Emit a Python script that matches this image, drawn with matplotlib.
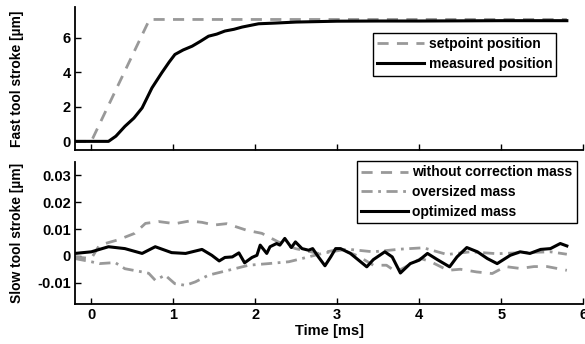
import numpy as np
import matplotlib
matplotlib.use("Agg")
import matplotlib.pyplot as plt

plt.rcParams['font.family'] = ['Liberation Sans', 'DejaVu Sans']
plt.rcParams['font.weight'] = 'bold'

GRAY = '#999999'

# top panel: fast tool
t_set = [-0.2, 0.0, 0.71, 5.8]
y_set = [0.0, 0.0, 7.07, 7.07]

t_meas = [-0.2, 0.0, 0.21, 0.3, 0.41, 0.52, 0.62, 0.74, 0.86, 0.95, 1.02, 1.12, 1.23, 1.33,
          1.43, 1.53, 1.63, 1.74, 1.84, 2.04, 2.24, 2.5, 3.0, 3.5, 4.0, 4.5, 5.0, 5.5, 5.8]
y_meas = [0.0, 0.0, 0.0, 0.3, 0.87, 1.35, 1.94, 3.1, 3.98, 4.6, 5.04, 5.3, 5.52, 5.8,
          6.1, 6.22, 6.4, 6.5, 6.63, 6.82, 6.86, 6.92, 6.97, 6.98, 6.98, 6.99, 7.0, 7.0, 7.0]

# bottom panel: slow tool
t_wo = [-0.2, 0.0, 0.1, 0.33, 0.53, 0.66, 0.82, 1.02, 1.2, 1.35, 1.5, 1.65, 1.9, 2.08, 2.28,
        2.49, 2.77, 3.04, 3.25, 3.44, 3.6, 3.72, 3.9, 4.02, 4.14, 4.35, 4.5, 4.7, 4.89,
        5.05, 5.23, 5.4, 5.56, 5.8]
y_wo = [-0.0004, -0.001, 0.004, 0.006, 0.0084, 0.0121, 0.0128, 0.012, 0.013, 0.0125, 0.0115,
        0.012, 0.0095, 0.0084, 0.0052, 0.0027, 0.0009, 0.0025, 0.0, -0.0035, -0.0035, -0.006,
        -0.003, -0.001, -0.0022, -0.0054, -0.005, -0.006, -0.0066, -0.004, -0.0047, -0.004,
        -0.004, -0.0054]

t_over = [-0.2, 0.0, 0.1, 0.29, 0.41, 0.62, 0.7, 0.78, 0.9, 1.02, 1.15, 1.27, 1.43, 1.67,
          1.92, 2.16, 2.41, 2.57, 2.83, 3.12, 3.44, 3.77, 4.05, 4.34, 4.62, 4.95, 5.27, 5.6, 5.8]
y_over = [-0.001, -0.0022, -0.0029, -0.0025, -0.0048, -0.006, -0.0065, -0.0091, -0.0072,
          -0.0104, -0.011, -0.0097, -0.0072, -0.0054, -0.0035, -0.0029, -0.0022, -0.001,
          0.001, 0.0025, 0.0015, 0.0025, 0.003, 0.0005, 0.0015, 0.0008, 0.0012, 0.0015, 0.0006]

t_opt = [-0.2, 0.0, 0.21, 0.41, 0.62, 0.78, 0.98, 1.15, 1.35, 1.47, 1.56, 1.63, 1.72, 1.8,
         1.87, 1.96, 2.02, 2.06, 2.14, 2.18, 2.26, 2.3, 2.36, 2.44, 2.49, 2.57, 2.65, 2.7,
         2.77, 2.85, 2.92, 2.98, 3.04, 3.16, 3.36, 3.44, 3.58, 3.67, 3.77, 3.89, 4.0, 4.1,
         4.22, 4.37, 4.46, 4.58, 4.71, 4.83, 4.95, 5.11, 5.23, 5.35, 5.48, 5.6, 5.72, 5.8]
y_opt = [0.0009, 0.0015, 0.0034, 0.0027, 0.0009, 0.0034, 0.0012, 0.0009, 0.0024, 0.0002,
         -0.0019, -0.0006, -0.0004, 0.0011, -0.0026, -0.0006, 0.0002, 0.004, 0.0009, 0.0034,
         0.0046, 0.004, 0.0065, 0.0031, 0.0052, 0.0027, 0.0021, 0.0027, -0.0004, -0.0037,
         -0.0004, 0.0027, 0.0027, 0.0009, -0.0041, -0.0014, 0.0015, -0.0004, -0.0064, -0.0029,
         -0.0016, 0.0009, -0.0014, -0.0041, -0.0004, 0.0031, 0.0015, -0.001, -0.0029, 0.0002,
         0.0015, 0.0009, 0.0024, 0.0027, 0.0046, 0.0037]

fig = plt.figure(figsize=(5.85, 3.44), dpi=100)
ax1 = fig.add_axes([0.128, 0.564, 0.869, 0.416])
ax2 = fig.add_axes([0.128, 0.116, 0.869, 0.413])

ax1.plot(t_set, y_set, color=GRAY, lw=2, ls=(0, (4, 3)), label='setpoint position')
ax1.plot(t_meas, y_meas, color='black', lw=2.2, label='measured position')
ax1.set_ylim(-0.5, 7.8)
ax1.set_yticks([0, 2, 4, 6])
ax1.set_xticklabels([])
ax1.set_ylabel('Fast tool stroke [µm]', fontsize=10, fontweight='bold')
ax1.legend(loc='upper right', bbox_to_anchor=(0.947, 0.818), fontsize=10, handlelength=3.4,
           fancybox=False, edgecolor='black', framealpha=1, borderpad=0.3, labelspacing=0.45,
           handletextpad=0.3, borderaxespad=0)

ax2.plot(t_wo, y_wo, color=GRAY, lw=2, ls=(0, (4, 3)), label='without correction mass')
ax2.plot(t_over, y_over, color=GRAY, lw=2, ls=(0, (4, 2, 1, 2)), label='oversized mass')
ax2.plot(t_opt, y_opt, color='black', lw=2.2, label='optimized mass')
ax2.set_ylim(-0.018, 0.035)
ax2.set_yticks([-0.01, 0, 0.01, 0.02, 0.03])
ax2.set_yticklabels(['-0.01', '0', '0.01', '0.02', '0.03'])
ax2.set_xlabel('Time [ms]', fontsize=10.5, fontweight='bold', labelpad=1)
ax2.set_ylabel('Slow tool stroke [µm]', fontsize=10, fontweight='bold')
ax2.legend(loc='upper right', bbox_to_anchor=(0.987, 1.005), fontsize=10, handlelength=3.4,
           fancybox=False, edgecolor='black', framealpha=1, borderpad=0.3, labelspacing=0.4,
           handletextpad=0.3, borderaxespad=0)

for ax in (ax1, ax2):
    ax.set_xlim(-0.2, 6)
    ax.set_xticks([0, 1, 2, 3, 4, 5, 6])
    ax.spines['top'].set_visible(False)
    ax.spines['right'].set_visible(False)
    ax.spines['left'].set_linewidth(1.3)
    ax.spines['bottom'].set_linewidth(1.3)
    ax.tick_params(direction='in', length=4, width=1, labelsize=10.5, pad=3)
    for lab in ax.get_xticklabels() + ax.get_yticklabels():
        lab.set_fontweight('bold')
    ax.yaxis.set_label_coords(-0.1, 0.5)

fig.savefig('out.png', dpi=100)
